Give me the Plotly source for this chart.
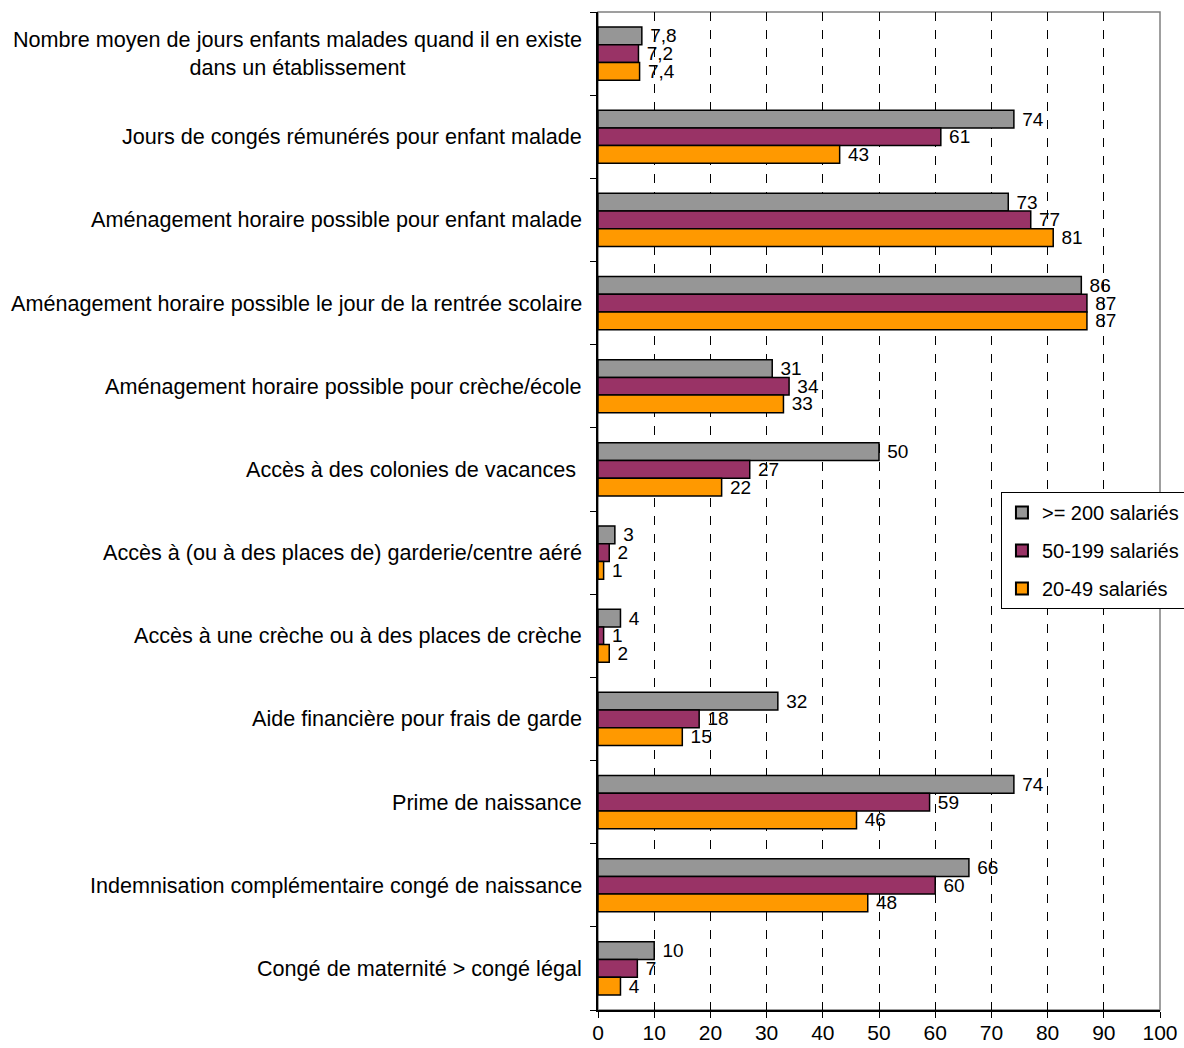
import plotly.graph_objects as go

categories = [
    "Nombre moyen de jours enfants malades quand il en existe<br>dans un établissement",
    "Jours de congés rémunérés pour enfant malade",
    "Aménagement horaire possible pour enfant malade",
    "Aménagement horaire possible le jour de la rentrée scolaire",
    "Aménagement horaire possible pour crèche/école",
    "Accès à des colonies de vacances ",
    "Accès à (ou à des places de) garderie/centre aéré",
    "Accès à une crèche ou à des places de crèche",
    "Aide financière pour frais de garde",
    "Prime de naissance",
    "Indemnisation complémentaire congé de naissance",
    "Congé de maternité > congé légal",
]

series_names = [">= 200 salariés", "50-199 salariés", "20-49 salariés"]
big = [7.8, 74, 73, 86, 31, 50, 3, 4, 32, 74, 66, 10]
mid = [7.2, 61, 77, 87, 34, 27, 2, 1, 18, 59, 60, 7]
small = [7.4, 43, 81, 87, 33, 22, 1, 2, 15, 46, 48, 4]
series_values = [big, mid, small]
colors = ["#969696", "#993366", "#FF9900"]

x_ticks = list(range(0, 101, 10))

FONT = "Liberation Sans, Arial, sans-serif"


def fmt(v):
    return (f"{v:g}").replace(".", ",")


fig = go.Figure()
for k, (name, vals, col) in enumerate(zip(series_names, series_values, colors)):
    fig.add_trace(go.Bar(
        y=list(range(len(categories))),
        x=vals,
        name=name,
        legendgroup=f"g{k}",
        orientation="h",
        marker=dict(color=col, line=dict(color="black", width=1.5)),
        text=[" " + fmt(v) for v in vals],
        textposition="outside",
        constraintext="none",
        cliponaxis=False,
        textfont=dict(family=FONT, size=19, color="black"),
    ))

# category labels, right-aligned against the axis
for i, c in enumerate(categories):
    fig.add_annotation(
        x=0, xref="paper", y=i, yref="y",
        text=c, showarrow=False,
        xanchor="right", yanchor="middle", align="center",
        xshift=-14,
        font=dict(family=FONT, size=21.6, color="black"),
    )

# plot frame
fig.add_shape(type="rect", xref="paper", yref="paper", x0=0, x1=1, y0=0, y1=1,
              line=dict(color="#808080", width=1.5), layer="below")

fig.update_layout(
    width=1184, height=1048,
    margin=dict(l=598, r=24, t=12, b=38, autoexpand=False),
    paper_bgcolor="white", plot_bgcolor="white",
    barmode="group", bargap=0.36, bargroupgap=0,
    font=dict(family=FONT, size=21, color="black"),
    showlegend=True,
    legend=dict(
        x=0.717, y=0.519, xanchor="left", yanchor="top",
        bgcolor="white", bordercolor="black", borderwidth=1,
        font=dict(family=FONT, size=20, color="black"),
        itemsizing="constant", tracegroupgap=9, itemwidth=30,
    ),
    xaxis=dict(
        range=[0, 100], tickvals=x_ticks, ticktext=[str(t) for t in x_ticks],
        showgrid=True, gridcolor="black", griddash="dash", gridwidth=1,
        zeroline=False, showline=True, linecolor="black", linewidth=1.5,
        ticks="outside", ticklen=6, tickcolor="black",
        ticklabelstandoff=-3,
        tickfont=dict(family=FONT, size=21),
        fixedrange=True,
    ),
    yaxis=dict(
        type="linear", range=[len(categories) - 0.5, -0.5],
        tickvals=[i - 0.5 for i in range(len(categories) + 1)],
        showticklabels=False, showgrid=False, zeroline=False,
        showline=True, linecolor="black", linewidth=1.5,
        ticks="outside", ticklen=6, tickcolor="black",
        fixedrange=True,
    ),
)

fig.write_html("out.html")
